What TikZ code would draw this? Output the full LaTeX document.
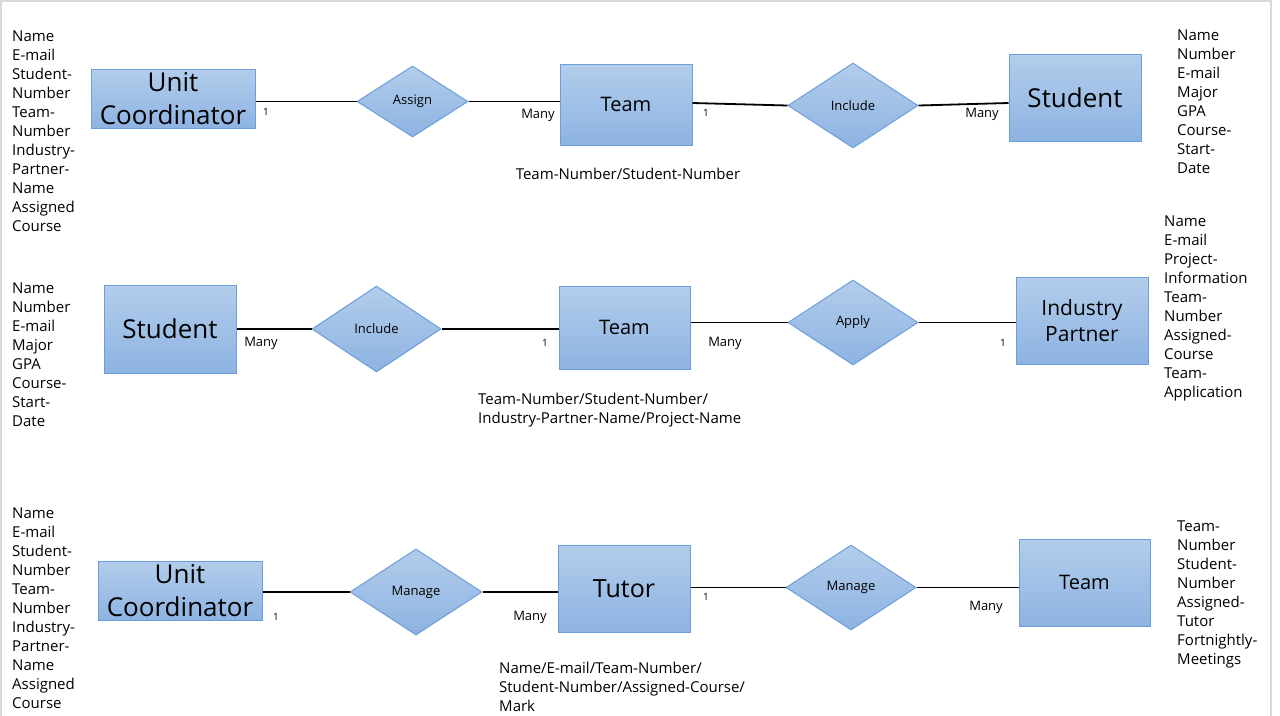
\documentclass[tikz,border=0pt]{standalone}
\usepackage{fontspec}
\setmainfont{Open Sans}
\usetikzlibrary{shapes.geometric}
\definecolor{boxtop}{HTML}{B3CDEB}
\definecolor{boxbot}{HTML}{8DB3E2}
\definecolor{boxline}{HTML}{6C9FDA}
\definecolor{framegray}{HTML}{D9D9D9}
\newcommand{\fsz}[2]{\fontsize{#1}{#2}\selectfont}
\begin{document}
\begin{tikzpicture}[x=1pt,y=-1pt,
  entity/.style={rectangle, draw=boxline, line width=1pt, top color=boxtop, bottom color=boxbot, inner sep=0pt, align=center},
  relation/.style={diamond, draw=boxline, line width=1pt, top color=boxtop, bottom color=boxbot, inner sep=0pt, font=\fsz{13}{15}},
  attrs/.style={anchor=west, align=left, inner sep=0pt, font=\fsz{15}{19}},
  caption/.style={align=left, inner sep=0pt, font=\fsz{15}{19}},
  card/.style={inner sep=0pt, font=\fsz{13}{15}},
  one/.style={inner sep=0pt, font=\fsz{10}{12}},
  link/.style={line width=1.8pt, black}
]
\useasboundingbox (0,0) rectangle (1280,715);
\draw[framegray, line width=2pt] (1,716) -- (1,1) -- (1271,1) -- (1271,716);

% ---------- Row 1 ----------
\node[attrs] (a1l) at (12,131.5) {Name\\E-mail\\Student-\\Number\\Team-\\Number\\Industry-\\Partner-\\Name\\Assigned\\Course};
\node[entity, minimum width=164, minimum height=59, font=\fsz{26}{33}] (uc1) at (173,98.5) {Unit\\Coordinator};
\node[relation, minimum width=111, minimum height=71] (assign1) at (412.5,101.5) {\raisebox{-1.5pt}{Assign}};
\node[entity, minimum width=132, minimum height=81, font=\fsz{20}{24}] (team1) at (626,104.5) {\raisebox{-1.5pt}{Team}};
\node[relation, minimum width=130, minimum height=85] (include1) at (853,105.5) {Include};
\node[entity, minimum width=132, minimum height=87, font=\fsz{26}{30}] (student1) at (1075,97.5) {\raisebox{-1pt}{Student}};
\node[attrs] (a1r) at (1177,101.5) {Name\\Number\\E-mail\\Major\\GPA\\Course-\\Start-\\Date};
\node[caption] (cap1) at (628,174) {Team-Number/Student-Number};

\draw[link] (uc1.east |- assign1.west) -- (assign1.west);
\draw[link] (assign1.east) -- (team1.west |- assign1.east);
\draw[link] (team1.east |- 0,103) -- (include1.west);
\draw[link] (include1.east) -- (student1.west |- 0,103);
\node[one] (c11) at (266,112) {1};
\node[card] (c12) at (538,115) {Many};
\node[one] (c13) at (706,113) {1};
\node[card] (c14) at (982,114) {Many};

% ---------- Row 2 ----------
\node[attrs] (a2l) at (12,354.5) {Name\\Number\\E-mail\\Major\\GPA\\Course-\\Start-\\Date};
\node[entity, minimum width=132, minimum height=88, font=\fsz{26}{30}] (student2) at (170,329) {\raisebox{-1pt}{Student}};
\node[relation, minimum width=129, minimum height=86] (include2) at (376.5,329) {Include};
\node[entity, minimum width=131, minimum height=83, font=\fsz{20}{24}] (team2) at (624.5,327.5) {Team};
\node[relation, minimum width=130, minimum height=85] (apply) at (853,322.5) {Apply};
\node[entity, minimum width=132, minimum height=87, font=\fsz{21}{26}] (ip) at (1082,320.5) {Industry\\Partner};
\node[attrs] (a2r) at (1164,308) {Name\\E-mail\\Project-\\Information\\Team-\\Number\\Assigned-\\Course\\Team-\\Application};
\node[caption, anchor=west] (cap2) at (478,410) {Team-Number/Student-Number/\\Industry-Partner-Name/Project-Name};

\draw[link] (student2.east) -- (include2.west);
\draw[link] (include2.east) -- (team2.west |- include2.east);
\draw[link] (team2.east |- apply.west) -- (apply.west);
\draw[link] (apply.east) -- (ip.west |- apply.east);
\node[card] (c21) at (261,343) {Many};
\node[one] (c22) at (545,343) {1};
\node[card] (c23) at (725,343) {Many};
\node[one] (c24) at (1003,343) {1};

% ---------- Row 3 ----------
\node[attrs] (a3l) at (12,608) {Name\\E-mail\\Student-\\Number\\Team-\\Number\\Industry-\\Partner-\\Name\\Assigned\\Course};
\node[entity, minimum width=164, minimum height=59, font=\fsz{26}{33}] (uc3) at (180,590.5) {Unit\\Coordinator};
\node[relation, minimum width=132, minimum height=86] (manage1) at (416,592) {Manage};
\node[entity, minimum width=132, minimum height=87, font=\fsz{25}{30}] (tutor) at (624,588.5) {\raisebox{-1.5pt}{Tutor}};
\node[relation, minimum width=130, minimum height=85] (manage2) at (851,587.5) {Manage};
\node[entity, minimum width=131, minimum height=87, font=\fsz{20}{24}] (team3) at (1084.5,582.5) {\raisebox{-1.5pt}{Team}};
\node[attrs] (a3r) at (1177,594) {Team-\\Number\\Student-\\Number\\Assigned-\\Tutor\\Fortnightly-\\Meetings};
\node[caption, anchor=west] (cap3) at (499,687) {Name/E-mail/Team-Number/\\Student-Number/Assigned-Course/\\Mark};

\draw[link] (uc3.east |- manage1.west) -- (manage1.west);
\draw[link] (manage1.east) -- (tutor.west |- manage1.east);
\draw[link] (tutor.east |- manage2.west) -- (manage2.west);
\draw[link] (manage2.east) -- (team3.west |- manage2.east);
\node[one] (c31) at (276,617) {1};
\node[card] (c32) at (530,617) {Many};
\node[one] (c33) at (706,597) {1};
\node[card] (c34) at (986,607) {Many};
\end{tikzpicture}
\end{document}
